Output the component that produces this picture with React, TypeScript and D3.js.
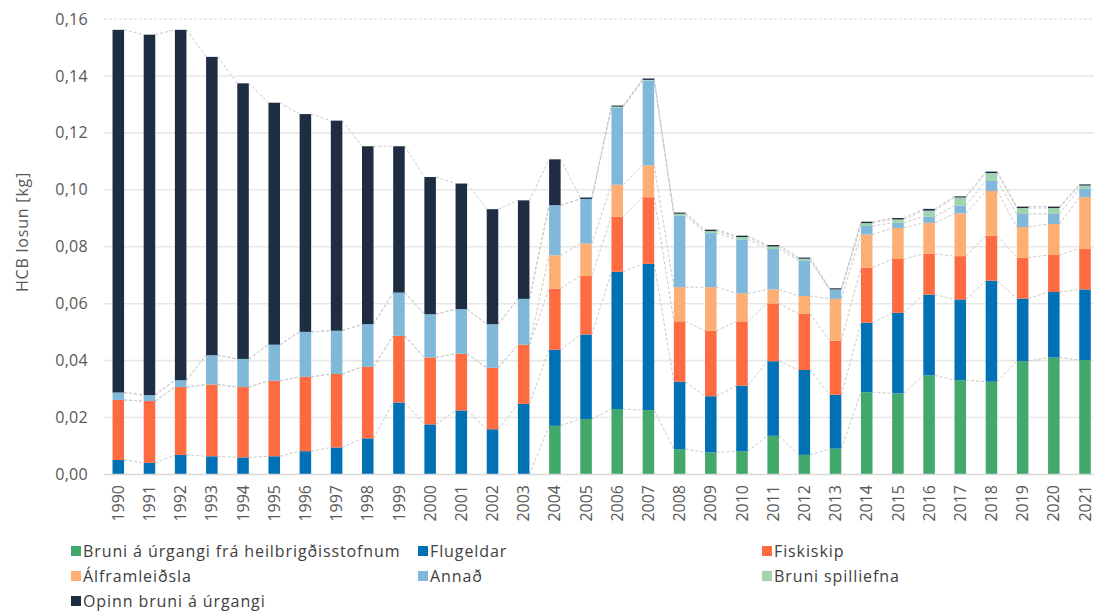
import React, { useEffect, useRef } from "react";
import * as d3 from "d3";

const years = ["1990","1991","1992","1993","1994","1995","1996","1997","1998","1999","2000","2001","2002","2003","2004","2005","2006","2007","2008","2009","2010","2011","2012","2013","2014","2015","2016","2017","2018","2019","2020","2021"];

const bruniHeilbr = [0,0,0,0,0,0,0,0,0,0,0,0,0,0,0.0171,0.0195,0.0230,0.0226,0.0089,0.0078,0.0082,0.0136,0.0069,0.0091,0.0289,0.0285,0.0348,0.0331,0.0326,0.0398,0.0411,0.0402];
const flugeldar = [0.0051,0.0041,0.0069,0.0064,0.0060,0.0064,0.0082,0.0095,0.0127,0.0253,0.0176,0.0225,0.0159,0.0248,0.0267,0.0297,0.0482,0.0514,0.0237,0.0197,0.0230,0.0262,0.0298,0.0189,0.0244,0.0283,0.0284,0.0284,0.0355,0.0220,0.0230,0.0248];
const fiskiskip = [0.0211,0.0217,0.0238,0.0252,0.0247,0.0265,0.0261,0.0258,0.0251,0.0234,0.0235,0.0199,0.0216,0.0208,0.0215,0.0207,0.0194,0.0234,0.0212,0.0230,0.0226,0.0203,0.0197,0.0190,0.0193,0.0189,0.0143,0.0152,0.0158,0.0144,0.0130,0.0144];
const alframleidsla = [0,0,0,0,0,0,0,0,0,0,0,0,0,0,0.0117,0.0112,0.0112,0.0112,0.0120,0.0153,0.0098,0.0049,0.0063,0.0147,0.0117,0.0109,0.0109,0.0150,0.0157,0.0107,0.0109,0.0180];
const annad = [0.0026,0.0021,0.0024,0.0103,0.0099,0.0127,0.0158,0.0152,0.0150,0.0152,0.0152,0.0157,0.0153,0.0161,0.0176,0.0157,0.0271,0.0298,0.0252,0.0190,0.0190,0.0142,0.0125,0.0031,0.0030,0.0018,0.0022,0.0028,0.0035,0.0046,0.0035,0.0031];
const bruniSpill = [0,0,0,0,0,0,0,0,0,0,0,0,0,0,0,0,0.0003,0.0002,0.0006,0.0007,0.0008,0.0009,0.0006,0.0002,0.0010,0.0012,0.0021,0.0028,0.0028,0.0021,0.0021,0.0010];
const opinnBruni = [0.1274,0.1266,0.1231,0.1048,0.0968,0.0850,0.0765,0.0738,0.0625,0.0514,0.0482,0.0441,0.0404,0.0346,0.0161,0.0005,0.0004,0.0005,0.0004,0.0005,0.0005,0.0005,0.0004,0.0004,0.0005,0.0005,0.0006,0.0004,0.0005,0.0005,0.0005,0.0004];

const seriesNames = ["Bruni á úrgangi frá heilbrigðisstofnum","Flugeldar","Fiskiskip","Álframleiðsla","Annað","Bruni spilliefna","Opinn bruni á úrgangi"];
const seriesValues = [bruniHeilbr, flugeldar, fiskiskip, alframleidsla, annad, bruniSpill, opinnBruni];
const seriesColors = ["#43a86b","#0071b5","#ff6b41","#fdae72","#80b8da","#a0d4b1","#1f2d43"];
const yTicks = [0,0.02,0.04,0.06,0.08,0.1,0.12,0.14,0.16];

const W = 1094, H = 612;
const FONT = "'Open Sans', Lato, sans-serif";

export default function App() {
  const ref = useRef<SVGSVGElement | null>(null);
  useEffect(() => {
    document.body.style.margin = "0";
    const svg = d3.select(ref.current);
    svg.selectAll("*").remove();

    const y = d3.scaleLinear().domain([0, 0.16]).range([474.5, 19]);
    const x = d3.scaleBand<string>().domain(years).range([102.7, 1100.6]).paddingInner(0.63).paddingOuter(0.315);
    const bw = x.bandwidth();

    const table = years.map((yr, i) => {
      const o: any = { year: yr };
      seriesNames.forEach((n, k) => (o[n] = seriesValues[k][i]));
      return o;
    });
    const stacked = d3.stack<any>().keys(seriesNames)(table);

    const g = svg.append("g");
    yTicks.forEach((t) => {
      if (t === 0) return;
      g.append("line")
        .attr("x1", 104).attr("x2", W)
        .attr("y1", y(t)).attr("y2", y(t))
        .attr("stroke", t === 0.16 ? "#d9d9d9" : "#e8e8e8")
        .attr("stroke-width", t === 0.16 ? 1.2 : 1.6)
        .attr("stroke-dasharray", t === 0.16 ? "3,2" : null);
    });

    stacked.forEach((s) => {
      for (let i = 0; i < years.length - 1; i++) {
        g.append("line")
          .attr("x1", (x(years[i]) as number) + bw)
          .attr("x2", x(years[i + 1]) as number)
          .attr("y1", y(s[i][1]))
          .attr("y2", y(s[i + 1][1]))
          .attr("stroke", "#c9c9c9")
          .attr("stroke-width", 1)
          .attr("stroke-dasharray", "3,2");
      }
    });

    stacked.forEach((s, k) => {
      g.append("g").attr("fill", seriesColors[k])
        .selectAll("rect").data(s).join("rect")
        .attr("x", (d: any) => x(d.data.year) as number)
        .attr("width", bw)
        .attr("y", (d: any) => y(d[1]))
        .attr("height", (d: any) => Math.max(0, y(d[0]) - y(d[1])));
    });

    g.append("line").attr("x1", 104).attr("x2", W).attr("y1", y(0)).attr("y2", y(0))
      .attr("stroke", "#d9d9d9").attr("stroke-width", 1.6);

    yTicks.forEach((t) => {
      g.append("text")
        .attr("x", 88).attr("y", y(t))
        .attr("dy", "0.35em")
        .attr("text-anchor", "end")
        .attr("font-family", FONT).attr("font-size", 16).attr("fill", "#595959")
        .attr("letter-spacing", 0.3)
        .text(d3.format(".2f")(t).replace(".", ","));
    });

    g.append("text")
      .attr("transform", `translate(22,232) rotate(-90)`)
      .attr("text-anchor", "middle")
      .attr("dy", "0.35em")
      .attr("font-family", FONT).attr("font-size", 16).attr("fill", "#595959")
      .attr("letter-spacing", 0.8)
      .text("HCB losun [kg]");

    years.forEach((yr) => {
      const cx = (x(yr) as number) + bw / 2;
      g.append("text")
        .attr("transform", `translate(${cx},485) rotate(-90)`)
        .attr("text-anchor", "end")
        .attr("dy", "0.35em")
        .attr("font-family", FONT).attr("font-size", 16).attr("fill", "#595959")
        .text(yr);
    });

    const legPos = [
      [71, 551], [418, 551], [762, 551],
      [71, 576], [418, 576], [762, 576],
      [71, 601],
    ];
    seriesNames.forEach((n, k) => {
      const [lx, ly] = legPos[k];
      g.append("rect").attr("x", lx).attr("y", ly - 5).attr("width", 10).attr("height", 10).attr("fill", seriesColors[k]);
      g.append("text").attr("x", lx + 12).attr("y", ly).attr("dy", "0.35em")
        .attr("font-family", FONT).attr("font-size", 16).attr("fill", "#404040")
        .attr("letter-spacing", 0.9)
        .text(n);
    });
  }, []);

  return <svg ref={ref} width={W} height={H} style={{ display: "block", position: "absolute", left: 0, top: 0 }} />;
}
